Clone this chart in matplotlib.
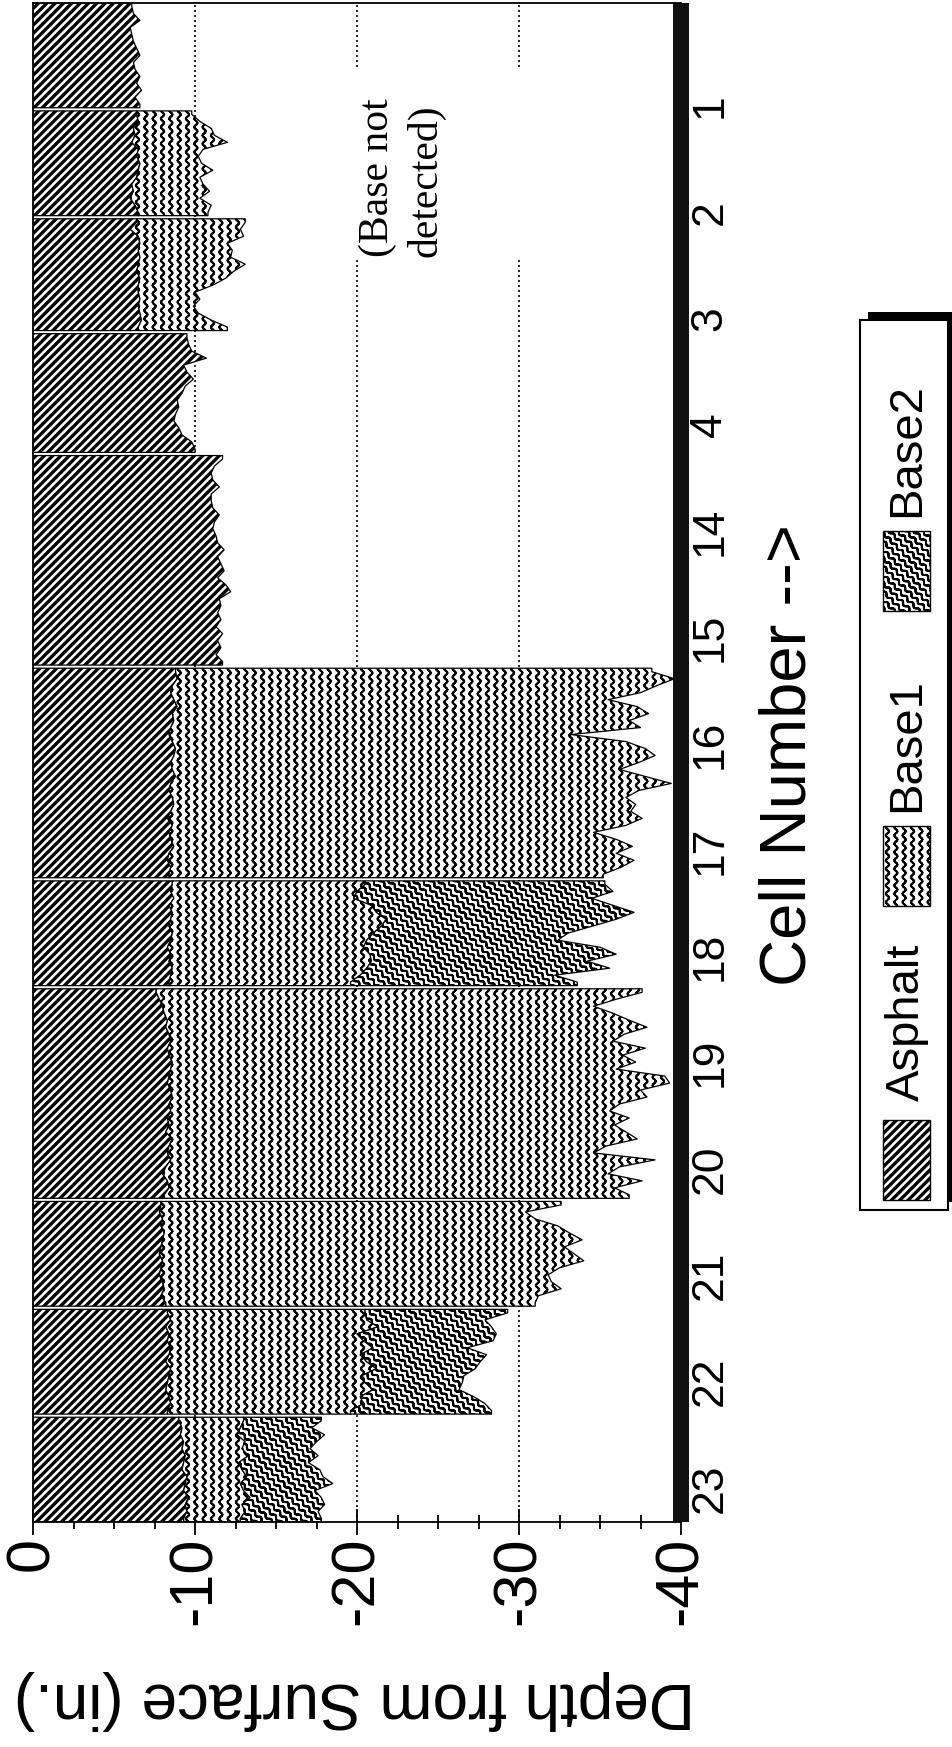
import warnings
warnings.filterwarnings("ignore")
import numpy as np
import matplotlib
matplotlib.use("Agg")
import matplotlib.pyplot as plt
import matplotlib.hatch as mhatch
from matplotlib.path import Path
from matplotlib.patches import Rectangle
from matplotlib.ticker import FixedLocator, MultipleLocator

# ---------------- data (top of page -> bottom) -------------
cell_labels = ['1', '2', '3', '4', '14', '15', '16', '17', '18', '19', '20', '21', '22', '23']
depth_ticks = [0, -10, -20, -30, -40]
depth_tick_labels = ['0', '-10', '-20', '-30', '-40']
legend_names = ['Asphalt', 'Base1', 'Base2']

# depth (in.) of the bottom of each layer, along each cell
asphalt_1 = [-6.1, -6.2, -6.6, -6.0, -6.1, -6.2, -6.4, -6.6, -6.2, -6.3, -6.6, -6.4, -6.7, -6.3, -6.6]

asphalt_2 = [-6.4, -6.5, -6.2, -6.3, -6.1, -6.5, -6.4, -6.6, -6.5, -6.4, -6.1, -6.2, -6.0, -6.3, -6.5]
base1_2 = [-9.8, -10.3, -11.0, -11.2, -12.0, -10.5, -10.2, -10.4, -11.1, -10.3, -10.5, -10.9, -10.3, -11.0, -10.8]

asphalt_3 = [-6.4, -6.0, -6.5, -6.6, -6.5, -6.6, -6.5, -6.4, -6.6, -6.5, -6.5, -6.6, -6.5, -6.6, -6.7, -6.5]
base1_3 = [-13.1, -12.8, -13.0, -12.0, -12.3, -12.2, -13.1, -12.4, -11.9, -11.1, -10.0, -10.3, -9.9, -10.2, -11.0, -12.0]

asphalt_4 = [-9.5, -9.6, -9.8, -10.7, -9.3, -9.5, -9.9, -9.4, -9.2, -8.9, -9.0, -8.8, -8.7, -9.0, -9.2, -9.8, -10.0]

asphalt_14_15 = [-11.7, -11.2, -11.0, -11.1, -11.5, -11.0, -11.0, -11.1, -11.5, -11.2,
                 -11.1, -11.3, -11.4, -11.8, -11.4, -11.6, -11.8, -11.4, -11.9, -12.2,
                 -11.5, -11.6, -11.4, -11.6, -11.3, -11.7, -11.4, -11.6, -11.3, -11.7]

asphalt_16_17 = [-8.8, -8.9, -8.6, -8.5, -8.7, -8.9, -8.6, -8.7, -8.5, -8.4,
                 -8.6, -8.8, -8.7, -8.5, -8.6, -8.8, -8.5, -8.4, -8.6, -8.7,
                 -8.5, -8.3, -8.6, -8.4, -8.5, -8.7, -8.4, -8.3, -8.5, -8.4]
base1_16_17 = [-38.2, -39.6, -38.5, -37.5, -35.5, -37.3, -38.0, -36.8, -37.5, -33.2,
               -36.6, -37.8, -38.4, -37.4, -36.2, -37.8, -39.4, -37.4, -36.6, -37.2,
               -36.9, -37.6, -36.6, -34.6, -36.0, -37.0, -36.0, -37.1, -36.3, -35.2]

asphalt_18 = [-8.6, -8.5, -8.7, -8.4, -8.6, -8.5, -8.4, -8.6, -8.5, -8.3, -8.5, -8.4, -8.6, -8.5, -8.4]
base1_18 = [-20.5, -20.0, -19.8, -20.9, -21.2, -21.8, -21.5, -21.0, -20.6, -20.4, -20.8, -20.9, -20.6, -20.2, -19.6]
base2_18 = [-35.3, -35.8, -34.5, -35.8, -37.1, -36.0, -34.5, -33.0, -32.4, -35.0, -36.0, -34.2, -35.6, -32.2, -33.6]

asphalt_19_20 = [-7.6, -7.8, -8.0, -8.1, -8.3, -8.2, -8.4, -8.5, -8.3, -8.4,
                 -8.6, -8.5, -8.4, -8.3, -8.5, -8.6, -8.4, -8.5, -8.3, -8.4,
                 -8.2, -8.6, -8.4, -8.3, -8.5, -8.2, -8.0, -8.3, -8.4, -8.1]
base1_19_20 = [-37.6, -36.0, -34.6, -35.8, -36.8, -37.9, -36.5, -35.8, -37.8, -36.4,
               -37.2, -36.0, -39.0, -39.3, -37.5, -37.9, -36.2, -35.6, -36.8, -35.9,
               -36.6, -37.3, -35.4, -34.6, -38.4, -36.2, -35.5, -37.6, -35.9, -36.8]

asphalt_21 = [-7.9, -7.8, -8.0, -7.9, -8.1, -8.0, -7.9, -7.8, -8.0, -7.9, -7.8, -8.0, -8.1, -7.9, -8.2]
base1_21 = [-32.6, -30.4, -31.0, -32.4, -33.1, -33.9, -32.8, -33.4, -34.0, -32.5, -31.8, -32.0, -32.6, -31.2, -31.0]

asphalt_22 = [-8.3, -8.5, -8.2, -8.4, -8.3, -8.5, -8.4, -8.2, -8.5, -8.4, -8.3, -8.2, -8.4, -8.5, -8.3]
base1_22 = [-20.5, -20.6, -21.3, -20.0, -20.4, -21.0, -20.2, -20.6, -21.2, -20.3, -20.5, -21.0, -20.2, -20.4, -19.6]
base2_22 = [-29.3, -27.9, -28.3, -28.6, -28.4, -26.8, -28.0, -27.6, -27.3, -26.6, -26.5, -26.3, -27.2, -27.9, -28.3]

asphalt_23 = [-9.0, -9.2, -9.1, -9.3, -9.2, -9.4, -9.3, -9.2, -9.5, -9.4, -9.3, -9.6, -9.4, -9.5, -9.3]
base1_23 = [-13.0, -12.8, -12.6, -13.1, -12.9, -13.3, -12.7, -12.9, -13.2, -12.8, -13.0, -13.4, -12.9, -13.1, -12.8]
base2_23 = [-17.8, -17.2, -18.0, -17.5, -17.1, -17.6, -17.0, -17.7, -17.9, -18.5, -17.4, -17.8, -18.0, -17.6, -17.8]

segments = [
    (asphalt_1, None, None),
    (asphalt_2, base1_2, None),
    (asphalt_3, base1_3, None),
    (asphalt_4, None, None),
    (asphalt_14_15, None, None),
    (asphalt_16_17, base1_16_17, None),
    (asphalt_18, base1_18, base2_18),
    (asphalt_19_20, base1_19_20, None),
    (asphalt_21, base1_21, None),
    (asphalt_22, base1_22, base2_22),
    (asphalt_23, base1_23, base2_23),
]

# ---------------- custom hatch patterns (wavy lines) ----------------
class WaveVerticalHatch(mhatch.HatchPatternBase):
    """'~' : vertical wavy lines"""
    def __init__(self, hatch, density):
        self.num_lines = int(hatch.count('~') * density)
        self.seg = 8 * max(self.num_lines, 1)
        self.num_vertices = self.num_lines * self.seg * 2

    def set_vertices_and_codes(self, vertices, codes):
        n, m = self.num_lines, self.seg
        t = np.linspace(0.0, 1.0, m + 1)
        k = 0
        for i in range(n):
            x = (i + 0.5) / n + 0.18 / n * np.sin(2 * np.pi * n * t)
            pts = np.column_stack([x, t])
            vertices[k:k + 2 * m:2] = pts[:-1]
            vertices[k + 1:k + 2 * m:2] = pts[1:]
            k += 2 * m
        codes[0::2] = Path.MOVETO
        codes[1::2] = Path.LINETO


class WaveDiagonalHatch(mhatch.HatchPatternBase):
    """'w' : wavy lines running top-left to bottom-right"""
    def __init__(self, hatch, density):
        n = int(hatch.count('w') * density)
        if n % 2:
            n += 1
        self.num_lines = n
        self.seg = 160
        self.num_vertices = (n + 1) * self.seg * 2 if n else 0

    def set_vertices_and_codes(self, vertices, codes):
        n, m = self.num_lines, self.seg
        t = np.linspace(0.0, 1.0, m + 1)
        amp = 0.32 / n
        d = amp * np.sin(2 * np.pi * 8 * (2 * t - 1)) / np.sqrt(2)
        k = 0
        for s in np.linspace(-0.5, 0.5, n + 1):
            x = s + t + d
            y = 1 + s - t + d
            pts = np.column_stack([x, y])
            vertices[k:k + 2 * m:2] = pts[:-1]
            vertices[k + 1:k + 2 * m:2] = pts[1:]
            k += 2 * m
        codes[0::2] = Path.MOVETO
        codes[1::2] = Path.LINETO


mhatch._hatch_types.append(WaveVerticalHatch)
mhatch._hatch_types.append(WaveDiagonalHatch)

HATCH = {'Asphalt': '////', 'Base1': '~~', 'Base2': 'wwww'}
HATCH_LW = {'Asphalt': 2.4, 'Base1': 1.4, 'Base2': 1.4}

plt.rcParams['font.family'] = ['Liberation Sans', 'DejaVu Sans']
plt.rcParams['hatch.linewidth'] = 1.8


def style_hatch(artist, name):
    if hasattr(artist, 'set_hatch_linewidth'):
        artist.set_hatch_linewidth(HATCH_LW[name])


# ---------------- figure ----------------
W, H = 952, 1747
AX_L, AX_R, AX_T, AX_B = 33, 681, 3, 1522
AW, AH = AX_R - AX_L, AX_B - AX_T
fig = plt.figure(figsize=(W / 100, H / 100), dpi=100)
ax = fig.add_axes([AX_L / W, 1 - AX_B / H, AW / W, AH / H])

gap = 0.45
y0 = 0.0
for asp, b1, b2 in segments:
    n = len(asp)
    y = np.concatenate([[y0], y0 + np.arange(n) + 0.5, [y0 + n]])

    def ext(a):
        a = np.asarray(a, dtype=float)
        return np.concatenate([[a[0]], a, [a[-1]]])

    layers = [('Asphalt', np.zeros(n + 2), ext(asp))]
    if b1 is not None:
        layers.append(('Base1', ext(asp), ext(b1)))
    if b2 is not None:
        layers.append(('Base2', ext(b1), ext(b2)))
    for name, left, right in layers:
        with plt.rc_context({'hatch.linewidth': HATCH_LW[name]}):
            c = ax.fill_betweenx(y, left, right, facecolor='white', edgecolor='black',
                                 hatch=HATCH[name], linewidth=0.9, zorder=2)
        style_hatch(c, name)
    y0 += n + gap
ytot = y0 - gap

ax.set_xlim(0, -40)
ax.set_ylim(ytot, 0)

# depth axis (bottom of page)
ax.xaxis.set_major_locator(FixedLocator(depth_ticks))
ax.set_xticklabels(depth_tick_labels)
ax.xaxis.set_minor_locator(MultipleLocator(2.5))
ax.tick_params(axis='x', which='major', direction='inout', length=19, width=1.3,
               pad=1, labelsize=44, labelrotation=90)
ax.tick_params(axis='x', which='minor', direction='inout', length=10, width=1.3)
ax.grid(axis='x', which='major', color='black', linestyle=(0, (1.2, 1.8)), linewidth=1.2)
ax.set_axisbelow(True)

# cell axis (right side of page)
ax.yaxis.tick_right()
ax.set_yticks(ytot * np.linspace(0.0678, 0.9776, len(cell_labels)))
ax.set_yticklabels(cell_labels)
ax.tick_params(axis='y', which='both', length=0, pad=6, labelsize=32, labelrotation=90)
for lab in ax.get_yticklabels():
    lab.set_va('center')

for side in ['left', 'top', 'bottom']:
    ax.spines[side].set_linewidth(1.3)
ax.spines['right'].set_linewidth(11.5)
ax.spines['right'].set_capstyle('butt')
ax.spines['right'].set_color('#111111')

ax.set_xlabel('Depth from Surface (in.)', fontsize=46, rotation=180, va='center', ha='center')
ax.xaxis.set_label_coords((354 - AX_L) / AW, -(1700 - AX_B) / AH)
ax.yaxis.set_label_position('right')
ax.set_ylabel('Cell Number -->', fontsize=47, rotation=90, va='center', ha='center')
ax.yaxis.set_label_coords((788 - AX_L) / AW, (AX_B - 755) / AH)

# annotation with white box covering the grid
ax.add_patch(Rectangle(((345 - AX_L) / AW, (AX_B - 258) / AH), 190 / AW, 191 / AH,
                       transform=ax.transAxes, facecolor='white', edgecolor='none', zorder=1))
ax.text((402 - AX_L) / AW, (AX_B - 257) / AH, '(Base not\ndetected)', transform=ax.transAxes,
        rotation=90, ha='center', va='bottom', multialignment='left', fontsize=30,
        family=['Liberation Serif', 'DejaVu Serif'], linespacing=1.3, zorder=3)

# ---------------- legend (drawn rotated, like the page) ----------------
lax = fig.add_axes([0, 0, 1, 1], facecolor='none')
lax.set_xlim(0, W)
lax.set_ylim(H, 0)
lax.axis('off')
lax.add_patch(Rectangle((868, 312), 88, 890, facecolor='black', edgecolor='none', zorder=1))
lax.add_patch(Rectangle((860, 320), 88, 890, facecolor='white', edgecolor='black', lw=1.5, zorder=2))
swatch_centers = {'Asphalt': 1160, 'Base1': 866, 'Base2': 571}
text_centers = {'Asphalt': 1022, 'Base1': 745, 'Base2': 450}
for name in legend_names:
    with plt.rc_context({'hatch.linewidth': HATCH_LW[name]}):
        p = Rectangle((883, swatch_centers[name] - 40), 47, 80, facecolor='white',
                      edgecolor='black', lw=1.0, hatch=HATCH[name], zorder=3)
    style_hatch(p, name)
    lax.add_patch(p)
    lax.text(907, text_centers[name], name, rotation=90, ha='center', va='center',
             fontsize=34, zorder=4)

fig.savefig('out.png', dpi=100)
